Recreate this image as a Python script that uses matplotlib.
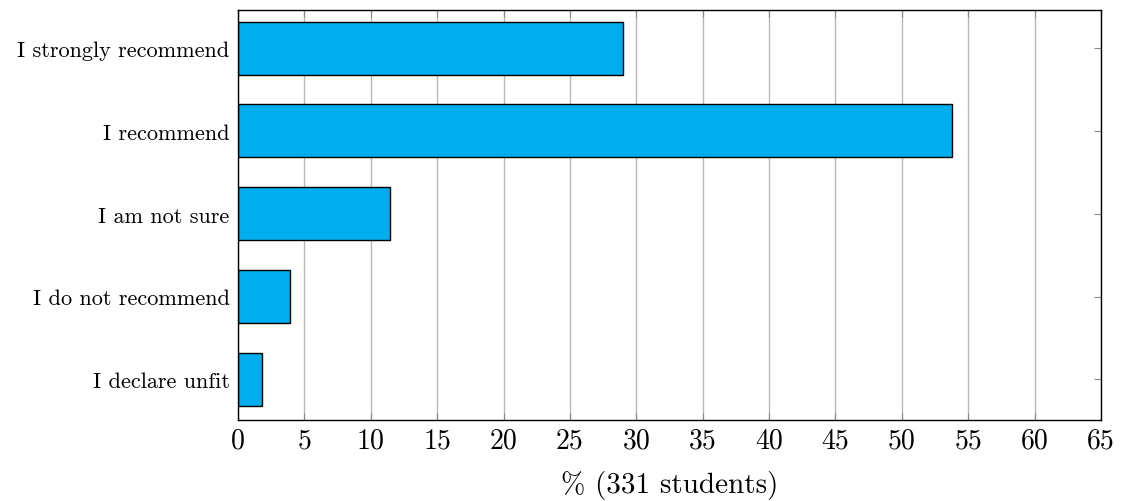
import matplotlib.pyplot as plt

categories = ["I declare unfit", "I do not recommend", "I am not sure",
              "I recommend", "I strongly recommend"]
counts = [6, 13, 38, 178, 96]
total = 331
percent = [100.0 * c / total for c in counts]
xticks = list(range(0, 70, 5))

plt.rcParams['font.family'] = ['cmr10', 'DejaVu Serif']
plt.rcParams['mathtext.fontset'] = 'cm'
plt.rcParams['axes.formatter.use_mathtext'] = True

fig = plt.figure(figsize=(11.29, 5.02), dpi=100)
ax = fig.add_axes([238 / 1129, 1 - 421 / 502, (1101 - 238) / 1129, (421 - 11) / 502])

ypos = list(range(len(categories)))
ax.barh(ypos, percent, height=0.64, color="#00AEEF", edgecolor="black",
        linewidth=1.0, zorder=3)

ax.set_xlim(0, 65)
ax.set_ylim(-0.49, 4.46)
ax.set_xticks(xticks)
ax.set_xticklabels([str(t) for t in xticks], fontsize=20)
ax.set_yticks(ypos)
ax.set_yticklabels(categories, fontsize=16)
ax.set_xlabel("% (331 students)", fontsize=21, labelpad=12)

ax.grid(axis='x', color='#b8b8b8', linewidth=1.0, zorder=0)
ax.tick_params(axis='x', direction='in', length=5, color='#888888',
               top=True, bottom=True, pad=5)
ax.tick_params(axis='y', direction='in', length=5, color='#888888',
               left=True, right=True, pad=6)
for s in ax.spines.values():
    s.set_linewidth(1.0)
    s.set_zorder(4)

fig.savefig("out.png", dpi=100)
